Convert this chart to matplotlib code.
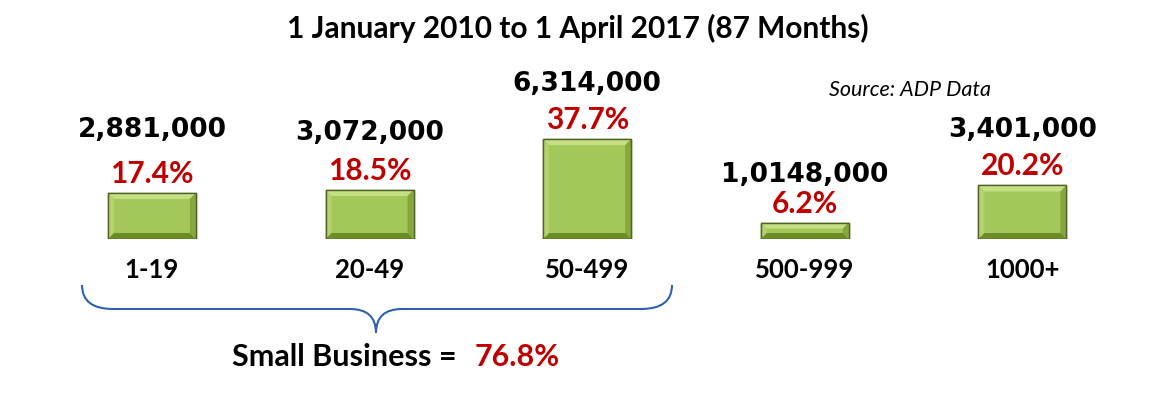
import matplotlib
matplotlib.use("Agg")
import matplotlib.pyplot as plt
from matplotlib.patches import Polygon, PathPatch
from matplotlib.path import Path
from matplotlib.transforms import IdentityTransform

# ---- data ----
categories = ["1-19", "20-49", "50-499", "500-999", "1000+"]
percent = [17.4, 18.5, 37.7, 6.2, 20.2]
job_labels = ["2,881,000", "3,072,000", "6,314,000", "1,0148,000", "3,401,000"]
pct_labels = ["17.4%", "18.5%", "37.7%", "6.2%", "20.2%"]
title = "1 January 2010 to 1 April 2017 (87 Months)"
source = "Source: ADP Data"
small_business_label = "Small Business ="
small_business_pct = "76.8%"

# ---- style ----
W, H = 1159, 397
DPI = 100
num_offset_px = [56, 50, 48, 41, 48]
pct_offset_px = 10
GREEN = "#A3C758"
RED = "#C00000"
BLUE = "#2E62B0"
LAT = ["Lato", "DejaVu Sans"]

fig = plt.figure(figsize=(W / DPI, H / DPI), dpi=DPI)
fig.patch.set_facecolor("white")

ax_left = 43.2 / W
ax_bottom = (H - 239) / H
ax = fig.add_axes([ax_left, ax_bottom, 1088 / W, 159 / H])
ax.set_xlim(-0.5, 4.5)
ax.set_ylim(0, 60)
ax.axis("off")

x = list(range(len(categories)))
bars = ax.bar(x, percent, width=0.404, color=GREEN, edgecolor="#4F6228",
              linewidth=1.0, zorder=2)

# bevel effect on each bar (computed from the bar patches in display space)
fig.canvas.draw()
b = 6
for bar in bars:
    (x0, y0), (x1, y1) = ax.transData.transform(
        [(bar.get_x(), bar.get_y()),
         (bar.get_x() + bar.get_width(), bar.get_y() + bar.get_height())])
    bb = min(b, (y1 - y0) / 2.5)
    pieces = [
        ([(x0, y1), (x1, y1), (x1 - bb, y1 - bb), (x0 + bb, y1 - bb)], "#C6DF84"),
        ([(x0, y0), (x0, y1), (x0 + bb, y1 - bb), (x0 + bb, y0 + bb)], "#B3D16C"),
        ([(x1, y0), (x1, y1), (x1 - bb, y1 - bb), (x1 - bb, y0 + bb)], "#86A73B"),
        ([(x0, y0), (x1, y0), (x1 - bb, y0 + bb), (x0 + bb, y0 + bb)], "#6C8C27"),
    ]
    for pts, col in pieces:
        ax.add_patch(Polygon(pts, closed=True, facecolor=col, edgecolor="none",
                             transform=IdentityTransform(), zorder=3))
    ax.add_patch(Polygon([(x0, y0), (x1, y0), (x1, y1), (x0, y1)], closed=True,
                         facecolor="none", edgecolor="#4F6228", linewidth=1.0,
                         transform=IdentityTransform(), zorder=4))
    # soft shadow
    ax.add_patch(Polygon([(x0 + 2, y0 - 3), (x1 + 2, y0 - 3), (x1 + 2, y0), (x0 + 2, y0)],
                         closed=True, facecolor="#BBBBBB", edgecolor="none", alpha=0.5,
                         transform=IdentityTransform(), zorder=1))

px2pt = 72 / DPI
for i, (v, jl, pl) in enumerate(zip(percent, job_labels, pct_labels)):
    ax.annotate(pl, (i, v), xytext=(0, pct_offset_px * px2pt), textcoords="offset points",
                ha="center", va="baseline", fontsize=21.5, fontweight="bold",
                color=RED, family=LAT, annotation_clip=False)
    ax.annotate(jl, (i, v), xytext=(0, num_offset_px[i] * px2pt), textcoords="offset points",
                ha="center", va="baseline", fontsize=19, fontweight="heavy",
                color="black", family=["DejaVu Sans"], annotation_clip=False)
    ax.annotate(categories[i], (i, 0), xytext=(0, -39 * px2pt), textcoords="offset points",
                ha="center", va="baseline", fontsize=18.5, fontweight="bold",
                color="black", family=LAT, annotation_clip=False)

# title and source
fig.text(577.5 / W, (H - 38) / H, title, ha="center", va="baseline",
         fontsize=21.5, fontweight="bold", family=LAT)
fig.text(910 / W, (H - 96) / H, source, ha="center", va="baseline",
         fontsize=15.5, style="italic", family=LAT)

# brace under the first three categories (pixel coordinates, y up)
L, R, C = 82, 672, 376
top, mid, tip = H - 285, H - 309, H - 333
r = 31
verts = [(L, top), (L, mid), (L + r, mid),
         (C - 26, mid),
         (C, mid), (C, tip),
         (C, mid), (C + 26, mid),
         (R - r, mid),
         (R, mid), (R, top)]
codes = [Path.MOVETO, Path.CURVE3, Path.CURVE3,
         Path.LINETO,
         Path.CURVE3, Path.CURVE3,
         Path.CURVE3, Path.CURVE3,
         Path.LINETO,
         Path.CURVE3, Path.CURVE3]
fig.add_artist(PathPatch(Path(verts, codes), facecolor="none", edgecolor=BLUE,
                         linewidth=1.5, transform=IdentityTransform()))

fig.text(457 / W, (H - 366) / H, small_business_label, ha="right", va="baseline",
         fontsize=22, fontweight="bold", family=LAT)
fig.text(475 / W, (H - 366) / H, small_business_pct, ha="left", va="baseline",
         fontsize=22, fontweight="bold", color=RED, family=LAT)

fig.savefig("out.png", dpi=DPI, facecolor="white")
